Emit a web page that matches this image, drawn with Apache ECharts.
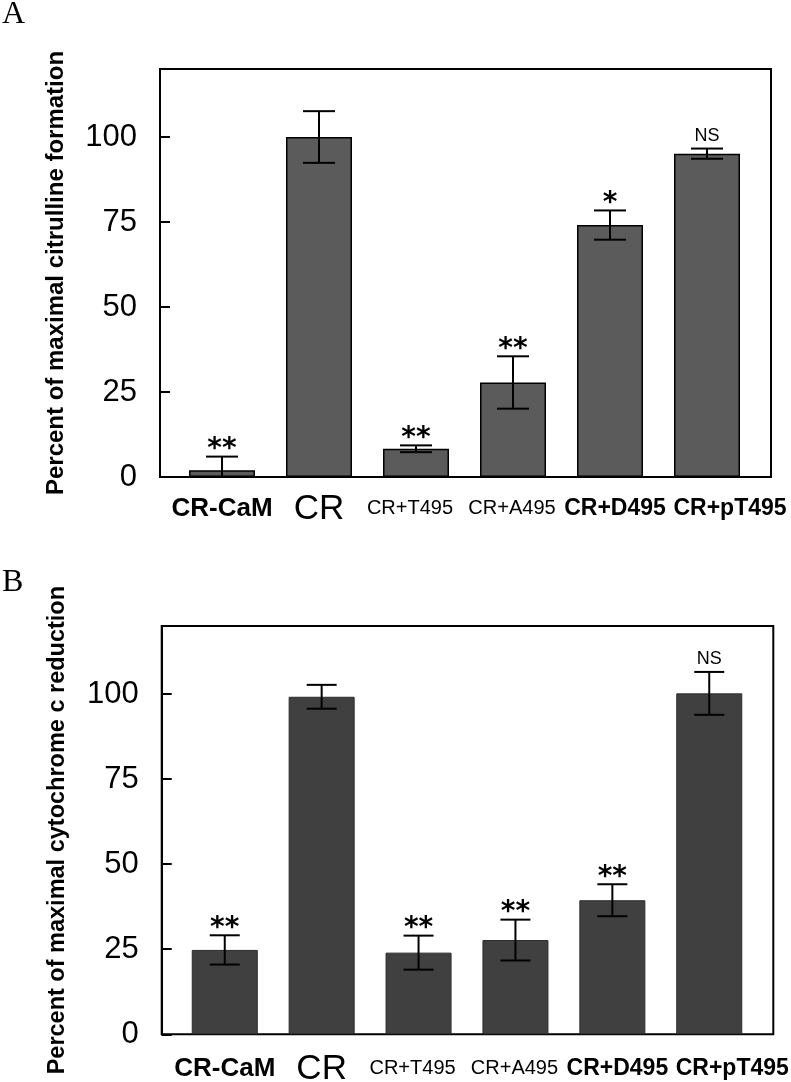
<!DOCTYPE html>
<html>
<head>
<meta charset="utf-8">
<script src="https://cdn.jsdelivr.net/npm/echarts@6/dist/echarts.min.js"></script>
<style>
html,body{margin:0;padding:0;background:#fff;}
#main{width:791px;height:1082px;}
</style>
</head>
<body>
<div id="main"></div>
<script>
// ---------- data ----------
const categories = ['CR-CaM', 'CR', 'CR+T495', 'CR+A495', 'CR+D495', 'CR+pT495'];
const yTicks = [0, 25, 50, 75, 100];

const citrullineMean = [2, 100, 8.3, 27.8, 74.1, 95.1];
const citrullineErr  = [4, 7.6, 1.0, 7.7, 4.3, 1.5];
const citrullineSig  = ['**', '', '**', '**', '*', 'NS'];

const cytochromeMean = [24.8, 99.2, 24.0, 27.7, 39.4, 100.2];
const cytochromeErr  = [4.3, 3.5, 5.0, 6.0, 4.7, 6.3];
const cytochromeSig  = ['**', '', '**', '**', '**', 'NS'];

const titleA = 'Percent of maximal citrulline formation';
const titleB = 'Percent of maximal cytochrome c reduction';

// ---------- styles ----------
const SANS = '"Liberation Sans", Arial, Helvetica, sans-serif';
// per-category label styles [fontSize, fontWeight, horizontal shift]
const labelStyles = [[26, 'bold', 0], [35, 'normal', 0], [20, 'normal', -6], [20, 'normal', -1], [23, 'bold', 5], [23, 'bold', 23]];
const maxLabelSize = 35;
const rich = {};
labelStyles.forEach((s, i) => {
  const size = s[0], shift = s[2];
  const pad = Math.round(0.8465 * (maxLabelSize - size));
  rich['c' + i] = {
    fontSize: size, fontWeight: s[1], fontFamily: SANS, color: '#000',
    lineHeight: size,
    padding: [pad, shift < 0 ? -2 * shift : 0, 0, shift > 0 ? 2 * shift : 0]
  };
});

const panels = [
  { frame: {left: 160, top: 69, width: 611, height: 408},
    bars: {left: 173.5, top: 69, width: 582, height: 408},
    mean: citrullineMean, err: citrullineErr, sig: citrullineSig,
    title: titleA, color: '#5b5b5b', border: '#000', borderW: 1.5, cap: 16, labelMargin: 15 },
  { frame: {left: 161.7, top: 626, width: 611.6, height: 408.3},
    bars: {left: 176.3, top: 626, width: 581.4, height: 408.3},
    mean: cytochromeMean, err: cytochromeErr, sig: cytochromeSig,
    title: titleB, color: '#404040', border: '#2b2b2b', borderW: 1, cap: 15, labelMargin: 18 }
];

const grid = [], xAxis = [], yAxis = [], series = [];
panels.forEach((p, k) => {
  const gf = grid.length;
  grid.push(Object.assign({show: true, borderColor: '#000', borderWidth: 2, backgroundColor: 'transparent',
    containLabel: false, outerBoundsMode: 'none'}, p.frame));
  const gb = grid.length;
  grid.push(Object.assign({show: false, containLabel: false, outerBoundsMode: 'none'}, p.bars));

  // frame axes
  xAxis.push({gridIndex: gf, type: 'category', data: categories, show: false});
  yAxis.push({
    gridIndex: gf, type: 'value', min: 0, max: 120, interval: 25,
    axisLine: {show: true, lineStyle: {color: '#000', width: 2}},
    axisTick: {show: true, inside: true, length: 10, lineStyle: {color: '#000', width: 2},
      customValues: yTicks},
    axisLabel: {show: true, fontSize: 31, fontFamily: SANS, color: '#000', margin: 23,
      customValues: yTicks, formatter: v => String(v)},
    splitLine: {show: false},
    name: p.title, nameLocation: 'middle', nameGap: 92,
    nameTextStyle: {fontSize: k === 0 ? 24 : 23.5, fontWeight: 'bold', fontFamily: SANS, color: '#000'}
  });
  // bar axes
  const xb = xAxis.length;
  xAxis.push({
    gridIndex: gb, type: 'category', data: categories,
    axisLine: {show: false}, axisTick: {show: false}, splitLine: {show: false},
    axisLabel: {show: true, interval: 0, margin: p.labelMargin, verticalAlign: 'top', hideOverlap: false,
      formatter: (v, i) => '{c' + categories.indexOf(v) + '|' + v + '}', rich: rich}
  });
  const yb = yAxis.length;
  yAxis.push({gridIndex: gb, type: 'value', min: 0, max: 120, show: false, splitLine: {show: false}});

  series.push({
    type: 'bar', xAxisIndex: xb, yAxisIndex: yb, data: p.mean, barWidth: 66,
    itemStyle: {color: p.color, borderColor: p.border, borderWidth: p.borderW},
    silent: true, animation: false
  });
  const sigArr = p.sig, cap = p.cap;
  series.push({
    type: 'custom', xAxisIndex: xb, yAxisIndex: yb, animation: false, silent: true, z: 5,
    data: p.mean.map((m, i) => [i, m, p.err[i]]),
    encode: {x: 0, y: 1},
    renderItem: function (params, api) {
      const i = api.value(0), m = api.value(1), e = api.value(2);
      const lo = Math.max(0, m - e);
      const top = api.coord([i, m + e]);
      const bot = api.coord([i, lo]);
      const ls = {stroke: '#000', lineWidth: 2};
      const children = [
        {type: 'line', shape: {x1: top[0], y1: top[1], x2: bot[0], y2: bot[1]}, style: ls},
        {type: 'line', shape: {x1: top[0] - cap, y1: top[1], x2: top[0] + cap, y2: top[1]}, style: ls}
      ];
      if (m - e > 0) {
        children.push({type: 'line', shape: {x1: bot[0] - cap, y1: bot[1], x2: bot[0] + cap, y2: bot[1]}, style: ls});
      }
      const s = sigArr[params.dataIndex];
      if (s) {
        const isNS = s === 'NS';
        children.push({
          type: 'text', x: top[0], y: top[1] - (isNS ? 4 : -7),
          style: {
            text: s, textAlign: 'center', textVerticalAlign: 'bottom',
            fontSize: isNS ? 18 : 28, fontWeight: isNS ? 'normal' : 'bold',
            fontFamily: isNS ? SANS : '"DejaVu Sans", sans-serif',
            fill: '#000'
          }
        });
      }
      return {type: 'group', children: children};
    }
  });
});

const option = {
  backgroundColor: '#fff',
  animation: false,
  title: [
    {text: 'A', left: 2, top: -1, padding: 0, textStyle: {fontFamily: '"Liberation Serif", "Times New Roman", serif', fontSize: 32, fontWeight: 'normal', color: '#000'}},
    {text: 'B', left: 2, top: 567, padding: 0, textStyle: {fontFamily: '"Liberation Serif", "Times New Roman", serif', fontSize: 32, fontWeight: 'normal', color: '#000'}}
  ],
  grid: grid, xAxis: xAxis, yAxis: yAxis, series: series
};

const chart = echarts.init(document.getElementById('main'), null, {renderer: 'canvas'});
chart.setOption(option);
</script>
</body>
</html>
